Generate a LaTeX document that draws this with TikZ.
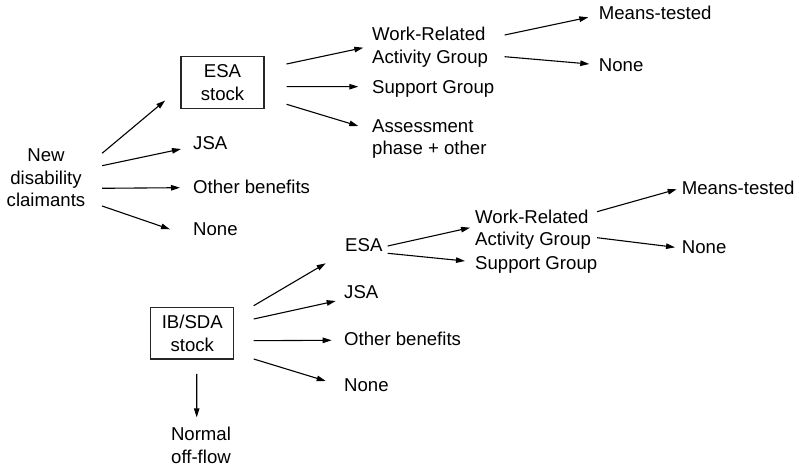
\documentclass[tikz,border=0pt]{standalone}
\usepackage{fontspec}
\setmainfont{Liberation Sans}
\usetikzlibrary{arrows.meta}
\tikzset{
  lbl/.style={inner sep=0pt, font=\fontsize{18.6bp}{22.5bp}\selectfont, align=left},
  stock/.style={lbl, draw=black!85, line width=1.2bp, minimum width=83bp, minimum height=51.5bp, align=center},
  flow/.style={-{Triangle[length=9bp,width=5.5bp]}, line width=1.1bp}
}
\begin{document}
\begin{tikzpicture}[x=1bp,y=-1bp]
\useasboundingbox (0,0) rectangle (799,470);

\node[lbl, align=center, anchor=base] (new) at (46,207) {New\\disability\\claimants};
\node[stock] (esabox) at (222.5,82.5) {ESA\\stock};
\node[lbl, anchor=base west] (jsa1) at (193,150) {JSA};
\node[lbl, anchor=base west] (oth1) at (193,193.3) {Other benefits};
\node[lbl, anchor=base west] (none1) at (193,236) {None};
\node[lbl, anchor=base west] (wrag1) at (372,63.3) {Work-Related\\Activity Group};
\node[lbl, anchor=base west] (sup1) at (372,93.3) {Support Group};
\node[lbl, anchor=base west] (ass1) at (372,155) {Assessment\\phase + other};
\node[lbl, anchor=base west] (means1) at (598.7,20) {Means-tested};
\node[lbl, anchor=base west] (none2) at (598.7,71.7) {None};

\node[stock] (ibbox) at (192.3,333.3) {IB/SDA\\stock};
\node[lbl, anchor=base west] (esa2) at (345,251.7) {ESA};
\node[lbl, anchor=base west] (jsa2) at (344,298.3) {JSA};
\node[lbl, anchor=base west] (oth2) at (344,346) {Other benefits};
\node[lbl, anchor=base west] (none3) at (344,391) {None};
\node[lbl, align=center, anchor=base] (off) at (201,463.3) {Normal\\off-flow};
\node[lbl, anchor=base west] (wrag2) at (475,246) {Work-Related\\Activity Group};
\node[lbl, anchor=base west] (sup2) at (475,270) {Support Group};
\node[lbl, anchor=base west] (means2) at (681.7,195) {Means-tested};
\node[lbl, anchor=base west] (none4) at (681.7,253.3) {None};

\draw[flow] ([shift={(16.6,-53.7)}]new.base east) -- ([shift={(-15.3,-8.3)}]esabox.south west);
\draw[flow] ([shift={(16.6,-41.3)}]new.base east) -- ([shift={(-12,-1)}]jsa1.base west);
\draw[flow] ([shift={(16.6,-18.7)}]new.base east) -- ([shift={(-13,-5.6)}]oth1.base west);
\draw[flow] ([shift={(16.6,-1)}]new.base east) -- ([shift={(-23,-6.7)}]none1.base west);

\draw[flow] ([shift={(22,-18.5)}]esabox.east) -- ([shift={(-8.7,-15.6)}]wrag1.base west);
\draw[flow] ([shift={(22,4.2)}]esabox.east) -- ([shift={(-13.7,-6.6)}]sup1.base west);
\draw[flow] ([shift={(22,21.8)}]esabox.east) -- ([shift={(-13.7,-29)}]ass1.base west);

\draw[flow] ([shift={(16.5,-28.3)}]wrag1.base east) -- ([shift={(-10.4,-2.7)}]means1.base west);
\draw[flow] ([shift={(16.5,-6.6)}]wrag1.base east) -- ([shift={(-9.4,-7.7)}]none2.base west);

\draw[flow] ([shift={(19.3,-27.6)}]ibbox.east) -- ([shift={(-19.3,11.6)}]esa2.base west);
\draw[flow] ([shift={(19.3,-14.3)}]ibbox.east) -- ([shift={(-8.3,2.7)}]jsa2.base west);
\draw[flow] ([shift={(19.3,7.4)}]ibbox.east) -- ([shift={(-12.3,-5.7)}]oth2.base west);
\draw[flow] ([shift={(19.3,25.7)}]ibbox.east) -- ([shift={(-18.3,-10)}]none3.base west);
\draw[flow] ([shift={(4.4,14.3)}]ibbox.south) -- ([shift={(-4.3,-46)}]off.base);

\draw[flow] ([shift={(5.1,-5.7)}]esa2.base east) -- ([shift={(-5,-18.3)}]wrag2.base west);
\draw[flow] ([shift={(5.1,1.6)}]esa2.base east) -- ([shift={(-10,-9)}]sup2.base west);

\draw[flow] ([shift={(5.9,-34.3)}]wrag2.base east) -- ([shift={(-5,-5.7)}]means2.base west);
\draw[flow] ([shift={(5.9,-8.3)}]wrag2.base east) -- ([shift={(-6.7,-6)}]none4.base west);
\end{tikzpicture}
\end{document}
